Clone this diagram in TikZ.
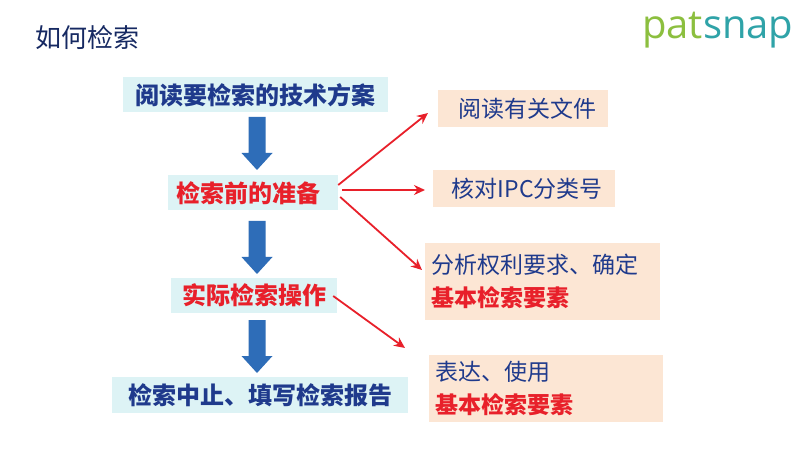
\documentclass[tikz,border=0pt]{standalone}
\usepackage{fontspec}
\newfontfamily\cjk{Noto Sans CJK SC}
\newfontfamily\logo{Open Sans}
\usetikzlibrary{arrows.meta}
\definecolor{cy}{HTML}{DDF3F5}
\definecolor{pe}{HTML}{FCE6D4}
\definecolor{nb}{HTML}{1F3A8C}
\definecolor{rd}{HTML}{E8202A}
\definecolor{ab}{HTML}{2E6DB8}
\definecolor{lg}{HTML}{8CBF3F}
\definecolor{lt}{HTML}{2FA3A8}
\tikzset{
 lbox/.style={fill=cy,font=\cjk\bfseries\fontsize{24}{26}\selectfont,inner sep=0pt},
 rbox/.style={fill=pe,font=\cjk\fontsize{23}{33}\selectfont,text=nb,inner sep=0pt,align=left,anchor=north west},
 ra/.style={draw=rd,line width=1.8pt,-{Stealth[length=11pt,width=10pt]}},
 dnarrow/.pic={\fill[ab] (-8.5,0) -- (8.5,0) -- (8.5,36) -- (15.5,36) -- (0,53) -- (-15.5,36) -- (-8.5,36) -- cycle;}
}
\begin{document}
\begin{tikzpicture}[x=1pt,y=-1pt]
\useasboundingbox (0,0) rectangle (808,454);
\fill[white] (0,0) rectangle (808,454);
\node[anchor=west,font=\cjk\fontsize{26}{28}\selectfont,text=nb!70!black] (t) at (32,38) {如何检索};
\node[anchor=east,font=\logo\fontsize{40}{42}\selectfont] (lg) at (797,30) {\textcolor{lg}{pat}\textcolor{lt}{snap}};
\node[lbox,minimum width=265pt,minimum height=35pt,text=nb] (a) at (255,95) {阅读要检索的技术方案};
\node[lbox,minimum width=170pt,minimum height=35pt,text=rd] (b) at (253,193) {\hspace*{-10pt}检索前的准备};
\node[lbox,minimum width=166pt,minimum height=35pt,text=rd] (c) at (254,295) {实际检索操作};
\node[lbox,minimum width=296pt,minimum height=36pt,text=nb] (d) at (260,395) {检索中止、填写检索报告};
\pic at (257,117) {dnarrow};
\pic at (257,221) {dnarrow};
\pic at (257,320) {dnarrow};
\node[rbox,minimum width=170pt,minimum height=37pt] (r1) at (438,90) {\hspace*{8pt}阅读有关文件};
\node[rbox,minimum width=182pt,minimum height=37pt] (r2) at (433,170) {\hspace*{6pt}核对IPC分类号};
\node[rbox,minimum width=235pt,minimum height=77pt,text width=235pt] (r3) at (425,243) {\hspace*{6pt}分析权利要求、确定\\\hspace*{6pt}\textcolor{rd}{\bfseries 基本检索要素}};
\node[rbox,minimum width=234pt,minimum height=67pt,text width=234pt] (r4) at (429,355) {\hspace*{6pt}表达、使用\\\hspace*{6pt}\textcolor{rd}{\bfseries 基本检索要素}};
\draw[ra] (b.east) ++(0,-8) -- (428,113);
\draw[ra] (b.east) ++(4,-3) -- (425,190);
\draw[ra] (b.east) ++(2,4) -- (422,270);
\draw[ra] (c.east) ++(-4,1) -- (405,348);
\end{tikzpicture}
\end{document}
